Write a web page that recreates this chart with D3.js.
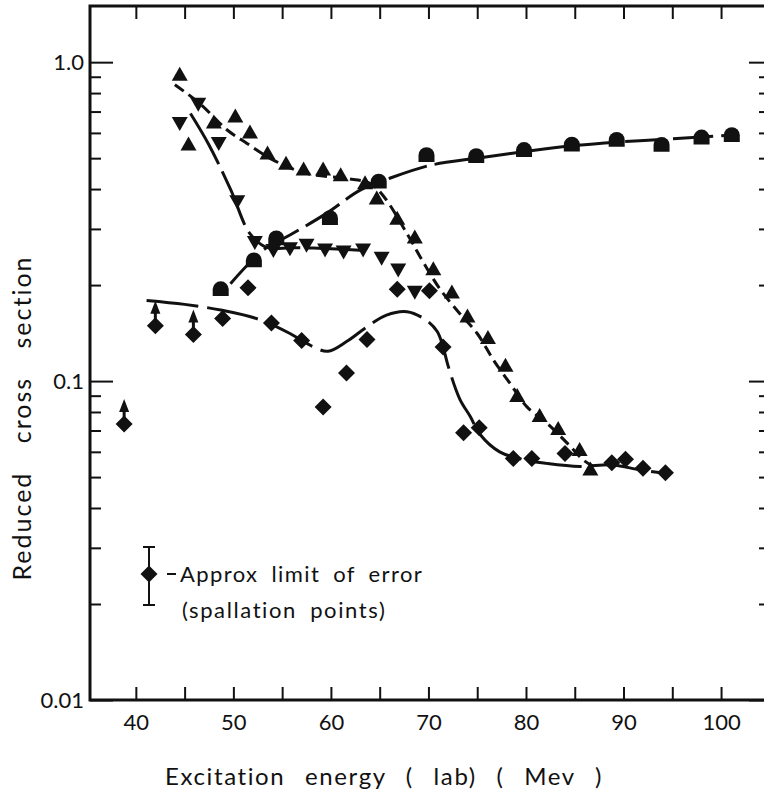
<!DOCTYPE html>
<html>
<head>
<meta charset="utf-8">
<script src="https://cdn.jsdelivr.net/npm/d3@7"></script>
<style>
  body { margin: 0; background: #fff; }
  svg text { font-family: Lato, 'Open Sans', sans-serif; fill: #111; }
</style>
</head>
<body>
<div id="chart"></div>
<script>
// values (E in MeV, reduced cross section)
const triUpE = [44.5, 45.4, 48.0, 50.2, 51.7, 53.5, 55.4, 57.2, 59.2, 61.0, 63.5, 64.7, 66.8, 68.6, 70.5, 72.4, 74.0, 76.1, 77.9, 79.1, 81.4, 83.3, 85.5, 86.6]
const triUpV = [0.916, 0.553, 0.649, 0.678, 0.604, 0.519, 0.482, 0.462, 0.462, 0.443, 0.418, 0.375, 0.324, 0.283, 0.225, 0.190, 0.160, 0.137, 0.112, 0.090, 0.078, 0.071, 0.061, 0.053]

const triDownE = [44.5, 46.4, 48.5, 50.4, 52.2, 54.1, 55.8, 57.5, 59.4, 61.3, 63.3, 65.2, 66.9, 68.6]
const triDownV = [0.643, 0.738, 0.556, 0.365, 0.272, 0.257, 0.260, 0.267, 0.258, 0.254, 0.258, 0.243, 0.223, 0.190]

const domeE = [48.7, 52.1, 54.4, 59.9, 64.9, 69.8, 74.9, 79.8, 84.7, 89.3, 93.9, 98.0, 101.1]
const domeV = [0.194, 0.239, 0.280, 0.324, 0.422, 0.511, 0.507, 0.530, 0.551, 0.570, 0.550, 0.580, 0.590]

const diamondE = [38.8, 42.0, 45.9, 48.9, 51.5, 53.9, 57.0, 59.2, 61.6, 63.7, 66.8, 70.1, 71.5, 73.6, 75.2, 78.7, 80.6, 84.0, 88.8, 90.2, 92.0, 94.3]
const diamondV = [0.0733, 0.149, 0.140, 0.157, 0.196, 0.152, 0.134, 0.083, 0.106, 0.135, 0.194, 0.192, 0.128, 0.0689, 0.0714, 0.0572, 0.0572, 0.0593, 0.0555, 0.0569, 0.0533, 0.0516]
// diamonds that are lower limits (drawn with an arrow)
const diamondLimit = [true, true, true]

// hand drawn curves through the points
const curveTriUpE = [44.0, 46.6, 49.3, 51.4, 54.1, 57.5, 61.6, 64.0, 65.4, 67.8, 69.5, 71.2, 73.2, 75.0, 76.7, 78.4, 80.1, 82.1, 84.2, 85.9, 86.9]
const curveTriUpV = [0.85, 0.74, 0.615, 0.556, 0.493, 0.448, 0.432, 0.417, 0.38, 0.29, 0.235, 0.194, 0.163, 0.141, 0.116, 0.098, 0.083, 0.074, 0.064, 0.0565, 0.054]

const curveTriDownE = [45.6, 47.5, 49.7, 51.7, 53.5, 56.0, 60.0, 63.0]
const curveTriDownV = [0.69, 0.55, 0.40, 0.29, 0.262, 0.262, 0.26, 0.257]

const curveDomeE = [49.7, 53.1, 55.8, 59.5, 63.0, 65.9, 70.2, 75.0, 80.0, 85.0, 90.0, 95.0, 101.0]
const curveDomeV = [0.202, 0.258, 0.287, 0.335, 0.397, 0.431, 0.475, 0.50, 0.525, 0.548, 0.563, 0.575, 0.59]

const curveDiamondE = [41.1, 45.0, 48.7, 52.4, 55.8, 58.2, 59.7, 61.6, 63.7, 65.7, 67.8, 69.8, 70.9, 71.5, 72.0, 73.2, 74.3, 75.3, 77.3, 80.0, 82.1, 85.5, 88.9, 91.7, 94.0]
const curveDiamondV = [0.179, 0.174, 0.167, 0.157, 0.141, 0.128, 0.124, 0.133, 0.148, 0.161, 0.165, 0.155, 0.143, 0.128, 0.112, 0.088, 0.0773, 0.068, 0.060, 0.0565, 0.0552, 0.054, 0.0546, 0.0526, 0.0515]

const xTicks = [40, 45, 50, 55, 60, 65, 70, 75, 80, 85, 90, 95, 100]
const xLabels = [40, 50, 60, 70, 80, 90, 100]
const yMajor = [0.01, 0.1, 1.0]
const yMajorLabels = ['0.01', '0.1', '1.0']

const zip = (a, b) => a.map((d, i) => [d, b[i]])

const width = 764
const height = 792
const margin = { top: 6, right: 1, bottom: 92, left: 90 }

const x = d3.scaleLinear().domain([35.3, 104.3]).range([margin.left, width - margin.right])
const y = d3.scaleLog().domain([0.01, 1.5]).range([height - margin.bottom, margin.top])

const svg = d3.select('#chart').append('svg')
  .attr('width', width)
  .attr('height', height)

// minor log ticks
const yMinor = []
for (let e = -2; e <= 0; e++) {
  for (let m = 2; m <= 9; m++) {
    const v = m * Math.pow(10, e)
    if (v < 1.5) yMinor.push(v)
  }
}

// frame (right edge of the frame sits just past the picture)
const x0 = margin.left
const x1 = width + 2
const y0 = height - margin.bottom
const y1 = margin.top
svg.append('rect')
  .attr('x', x0).attr('y', y1)
  .attr('width', x1 - x0).attr('height', y0 - y1)
  .attr('fill', 'none').attr('stroke', '#111').attr('stroke-width', 3)

function styleAxis (g) {
  g.select('.domain').remove()
  g.selectAll('.tick line').attr('stroke', '#111').attr('stroke-width', 2)
  g.selectAll('.tick text').style('font-size', '22px').attr('fill', '#111')
}

// bottom axis
svg.append('g')
  .attr('transform', 'translate(0,' + y0 + ')')
  .call(d3.axisBottom(x).tickValues(xTicks).tickSize(-13).tickPadding(14)
    .tickFormat(d => xLabels.includes(d) ? d : ''))
  .call(styleAxis)

// top axis
svg.append('g')
  .attr('transform', 'translate(0,' + y1 + ')')
  .call(d3.axisTop(x).tickValues(xTicks).tickSize(-13).tickFormat(''))
  .call(styleAxis)

// left axis: minor then major
svg.append('g')
  .attr('transform', 'translate(' + x0 + ',0)')
  .call(d3.axisLeft(y).tickValues(yMinor).tickSize(-11).tickFormat(''))
  .call(styleAxis)
svg.append('g')
  .attr('transform', 'translate(' + x0 + ',0)')
  .call(d3.axisLeft(y).tickValues(yMajor).tickSize(-23).tickPadding(6)
    .tickFormat((d, i) => yMajorLabels[i]))
  .call(styleAxis)

// right axis
svg.append('g')
  .attr('transform', 'translate(' + x1 + ',0)')
  .call(d3.axisRight(y).tickValues(yMinor).tickSize(-7).tickFormat(''))
  .call(styleAxis)
svg.append('g')
  .attr('transform', 'translate(' + x1 + ',0)')
  .call(d3.axisRight(y).tickValues(yMajor).tickSize(-17).tickFormat(''))
  .call(styleAxis)

// curves
const line = d3.line()
  .x(d => x(d[0]))
  .y(d => y(d[1]))
  .curve(d3.curveCatmullRom.alpha(0.5))

const curves = [
  { pts: zip(curveTriUpE, curveTriUpV), dash: '11,6' },
  { pts: zip(curveTriDownE, curveTriDownV), dash: '58,8' },
  { pts: zip(curveDomeE, curveDomeV), dash: '40,8' },
  { pts: zip(curveDiamondE, curveDiamondV), dash: '52,9' }
]

svg.selectAll('.curve')
  .data(curves)
  .enter()
  .append('path')
  .attr('class', 'curve')
  .attr('d', d => line(d.pts))
  .attr('fill', 'none')
  .attr('stroke', '#111')
  .attr('stroke-width', 3)
  .attr('stroke-dasharray', d => d.dash)

// custom marker shapes (size = half width in px)
const triUp = {
  draw (ctx, s) {
    ctx.moveTo(0, -s * 0.95)
    ctx.lineTo(s, s * 0.8)
    ctx.lineTo(-s, s * 0.8)
    ctx.closePath()
  }
}
const triDown = {
  draw (ctx, s) {
    ctx.moveTo(0, s * 0.95)
    ctx.lineTo(s, -s * 0.8)
    ctx.lineTo(-s, -s * 0.8)
    ctx.closePath()
  }
}
const diamond = {
  draw (ctx, s) {
    ctx.moveTo(0, -s)
    ctx.lineTo(s, 0)
    ctx.lineTo(0, s)
    ctx.lineTo(-s, 0)
    ctx.closePath()
  }
}
const dome = {
  draw (ctx, s) {
    ctx.moveTo(-s, 0)
    ctx.arc(0, 0, s, Math.PI, 0)
    ctx.lineTo(s, s * 0.85)
    ctx.lineTo(-s, s * 0.85)
    ctx.closePath()
  }
}

function drawMarkers (cls, E, V, type, s) {
  svg.selectAll('.' + cls)
    .data(zip(E, V))
    .enter()
    .append('path')
    .attr('class', cls)
    .attr('transform', d => 'translate(' + x(d[0]) + ',' + y(d[1]) + ')')
    .attr('d', d3.symbol().type(type).size(s))
    .attr('fill', '#111')
}

drawMarkers('dome', domeE, domeV, dome, 8)
drawMarkers('tri-down', triDownE, triDownV, triDown, 8)
drawMarkers('tri-up', triUpE, triUpV, triUp, 8)
drawMarkers('diamond', diamondE, diamondV, diamond, 8.5)

// lower limit arrows above the first diamonds
const limits = zip(diamondE, diamondV).filter((d, i) => diamondLimit[i])
const arrows = svg.selectAll('.limit')
  .data(limits)
  .enter()
  .append('g')
  .attr('class', 'limit')
  .attr('transform', d => 'translate(' + x(d[0]) + ',' + y(d[1]) + ')')
arrows.append('line')
  .attr('x1', 0).attr('x2', 0).attr('y1', -6).attr('y2', -14)
  .attr('stroke', '#111').attr('stroke-width', 3)
arrows.append('path')
  .attr('d', 'M0,-25L5,-12L-5,-12Z')
  .attr('fill', '#111')

// legend
const legend = svg.append('g').attr('transform', 'translate(149,574)')
legend.append('line')
  .attr('x1', 0).attr('x2', 0).attr('y1', -27).attr('y2', 31)
  .attr('stroke', '#111').attr('stroke-width', 2)
legend.selectAll('.cap')
  .data([-27, 31])
  .enter()
  .append('line')
  .attr('x1', -6).attr('x2', 6)
  .attr('y1', d => d).attr('y2', d => d)
  .attr('stroke', '#111').attr('stroke-width', 2)
legend.append('path')
  .attr('d', d3.symbol().type(diamond).size(8.5))
  .attr('fill', '#111')
legend.append('line')
  .attr('x1', 18).attr('x2', 27).attr('y1', 0).attr('y2', 0)
  .attr('stroke', '#111').attr('stroke-width', 2)
legend.append('text')
  .attr('x', 31).attr('y', 8)
  .style('font-size', '22px')
  .style('letter-spacing', '1.4px')
  .style('word-spacing', '6px')
  .text('Approx  limit of error')
legend.append('text')
  .attr('x', 33).attr('y', 44)
  .style('font-size', '22px')
  .style('letter-spacing', '1.6px')
  .style('word-spacing', '6px')
  .text('(spallation points)')

// axis titles
svg.append('text')
  .attr('x', 384).attr('y', 785)
  .attr('text-anchor', 'middle')
  .style('font-size', '24px')
  .style('letter-spacing', '1.6px')
  .style('word-spacing', '12px')
  .text('Excitation energy  ( lab)  ( Mev )')

svg.append('text')
  .attr('transform', 'translate(31,418) rotate(-90)')
  .attr('text-anchor', 'middle')
  .style('font-size', '25px')
  .style('letter-spacing', '2px')
  .style('word-spacing', '20px')
  .text('Reduced  cross  section')
</script>
</body>
</html>
